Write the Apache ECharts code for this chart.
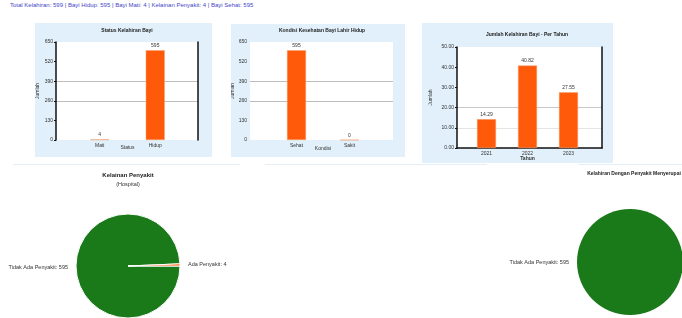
<!DOCTYPE html>
<html>
<head>
<meta charset="utf-8">
<script src="https://cdn.jsdelivr.net/npm/echarts@6/dist/echarts.min.js"></script>
<style>
body{margin:0;background:#fff;font-family:"Liberation Sans",Arial,sans-serif;}
#info{position:absolute;left:10px;top:2px;font-size:6px;color:#4646c8;white-space:nowrap;}
.panel{position:absolute;background:#e1f0fa;}
#c1{left:35px;top:23px;width:177px;height:134px;}
#c2{left:231px;top:24px;width:174px;height:133px;}
#c3{left:422px;top:23px;width:191px;height:140px;}
#pies{position:absolute;left:0;top:160px;width:682px;height:158px;}
.sep{position:absolute;top:164px;height:1px;background:#e3eef7;}
</style>
</head>
<body>
<div id="info">Total Kelahiran: 599 | Bayi Hidup: 595 | Bayi Mati: 4 | Kelainan Penyakit: 4 | Bayi Sehat: 595</div>
<div class="sep" style="left:13px;width:227px"></div>
<div class="sep" style="left:265px;width:222px"></div>
<div class="sep" style="left:578px;width:104px"></div>
<div id="c1" class="panel"></div>
<div id="c2" class="panel"></div>
<div id="c3" class="panel"></div>
<div id="pies"></div>
<script>
// data
var statusKategori = ['Mati', 'Hidup'];
var statusJumlah = [4, 595];
var statusSumbu = [0, 130, 260, 390, 520, 650];

var kondisiKategori = ['Sehat', 'Sakit'];
var kondisiJumlah = [595, 0];
var kondisiSumbu = [0, 130, 260, 390, 520, 650];

var tahunKategori = ['2021', '2022', '2023'];
var tahunNilai = [14.29, 40.82, 27.55];
var tahunSumbu = [0, 10, 20, 30, 40, 50];

var penyakitNama = ['Tidak Ada Penyakit', 'Ada Penyakit'];
var penyakitJumlah = [595, 4];

var menyerupaiNama = ['Tidak Ada Penyakit'];
var menyerupaiJumlah = [595];

function barOption(c) {
    var min = c.ticks[0];
    var max = c.ticks[c.ticks.length - 1];
    var step = c.ticks[1] - c.ticks[0];
    var fmt = function (v) { return c.dec ? v.toFixed(2) : String(v); };
    var dark = {color: '#111', width: 1.5};
    return {
        animation: false,
        title: {
            text: c.judul,
            left: c.titleX,
            top: c.titleTop,
            padding: 0,
            textAlign: 'center',
            textStyle: {fontSize: 5, fontWeight: 'bold', color: '#222'}
        },
        grid: [
            {left: c.plot[0], right: c.plot[1], top: c.plot[2], bottom: c.plot[3],
             outerBoundsMode: 'none', containLabel: false,
             show: true, backgroundColor: '#fff', borderWidth: 0},
            {left: c.bars[0], right: c.bars[1], top: c.plot[2], bottom: c.plot[3],
             outerBoundsMode: 'none', containLabel: false}
        ],
        xAxis: [
            {gridIndex: 0, type: 'value', min: 0, max: 1,
             axisLine: {show: c.bottomLine, lineStyle: dark},
             axisLabel: {show: false}, axisTick: {show: false}, splitLine: {show: false}},
            {gridIndex: 1, type: 'category', data: c.kategori,
             axisLine: {show: false}, axisTick: {show: false},
             axisLabel: {fontSize: 5, color: '#333', margin: 3},
             name: c.xName, nameLocation: 'middle', nameGap: c.xGap, nameMoveOverlap: false,
             nameTextStyle: {fontSize: 5, color: '#333', fontWeight: c.xBold ? 'bold' : 'normal'}}
        ],
        yAxis: [
            {gridIndex: 0, type: 'value', min: min, max: max, interval: step,
             axisLine: {show: c.leftLine, lineStyle: dark},
             axisTick: {show: c.leftLine, length: 2, lineStyle: {color: '#111'}},
             axisLabel: {fontSize: 5, color: '#333', margin: 3, formatter: fmt},
             splitLine: {lineStyle: {color: c.split, width: 1}},
             name: c.yName, nameLocation: 'middle', nameGap: c.yGap, nameMoveOverlap: false,
             nameTextStyle: {fontSize: 5, color: '#333'}},
            {gridIndex: 0, type: 'value', position: 'right', min: min, max: max, interval: step,
             axisLine: {show: c.rightLine, lineStyle: dark},
             axisLabel: {show: false}, axisTick: {show: false}, splitLine: {show: false}},
            {gridIndex: 1, type: 'value', min: min, max: max, show: false, splitLine: {show: false}}
        ],
        series: [{
            type: 'bar',
            xAxisIndex: 1,
            yAxisIndex: 2,
            data: c.nilai,
            barWidth: 19,
            itemStyle: {color: '#ff5a0a', borderColor: '#f0a070', borderWidth: 0.5},
            label: {show: true, position: 'top', distance: 2, fontSize: 5, color: '#333',
                    formatter: function (p) { return fmt(p.value); }}
        }]
    };
}

var clear = 'rgba(0,0,0,0)';

echarts.init(document.getElementById('c1')).setOption(barOption({
    judul: 'Status Kelahiran Bayi', titleX: 92, titleTop: 5,
    kategori: statusKategori, nilai: statusJumlah, ticks: statusSumbu, dec: false,
    plot: [21, 14, 19, 17], bars: [37, 29],
    xName: 'Status', xGap: 5.5, yName: 'Jumlah', yGap: 16,
    split: [clear, clear, '#bdbdbd', '#bdbdbd', clear, clear],
    leftLine: true, rightLine: true, bottomLine: false
}));

echarts.init(document.getElementById('c2')).setOption(barOption({
    judul: 'Kondisi Kesehatan Bayi Lahir Hidup', titleX: 91, titleTop: 4,
    kategori: kondisiKategori, nilai: kondisiJumlah, ticks: kondisiSumbu, dec: false,
    plot: [19, 12, 18, 17], bars: [39, 29],
    xName: 'Kondisi', xGap: 6.5, yName: 'Jumlah', yGap: 15,
    split: [clear, clear, '#bdbdbd', '#bdbdbd', clear, clear],
    leftLine: false, rightLine: false, bottomLine: false
}));

echarts.init(document.getElementById('c3')).setOption(barOption({
    judul: 'Jumlah Kelahiran Bayi - Per Tahun', titleX: 105, titleTop: 9,
    kategori: tahunKategori, nilai: tahunNilai, ticks: tahunSumbu, dec: true,
    plot: [35, 11, 24, 15], bars: [44, 24],
    xName: 'Tahun', xGap: 8, xBold: true, yName: 'Jumlah', yGap: 24,
    split: [clear, '#e4e4e4', '#c8c8c8', clear, clear, clear],
    leftLine: true, rightLine: true, bottomLine: true
}));

function pieData(nama, nilai) {
    return nama.map(function (n, i) { return {name: n, value: nilai[i]}; });
}

echarts.init(document.getElementById('pies')).setOption({
    animation: false,
    title: [
        {text: 'Kelainan Penyakit', subtext: '(Hospital)', left: 128, top: 12, textAlign: 'center',
         padding: 0, itemGap: 3, textStyle: {fontSize: 6, fontWeight: 'bold', color: '#222'},
         subtextStyle: {fontSize: 5.5, color: '#333'}},
        {text: 'Kelahiran Dengan Penyakit Menyerupai', left: 634, top: 11, textAlign: 'center',
         padding: 0, textStyle: {fontSize: 5, fontWeight: 'bold', color: '#222'}}
    ],
    color: ['#1a7a1a', '#ff5500'],
    series: [
        {type: 'pie', center: [128, 106], radius: 52, startAngle: 0,
         data: pieData(penyakitNama, penyakitJumlah),
         itemStyle: {borderColor: '#fff', borderWidth: 1},
         label: {formatter: '{b}: {c}', fontSize: 5.5, color: '#333'},
         labelLine: {show: false, length: 3, length2: 0}},
        {type: 'pie', center: [630, 102], radius: 53, startAngle: 0,
         data: pieData(menyerupaiNama, menyerupaiJumlah),
         itemStyle: {borderColor: '#fff', borderWidth: 0},
         label: {formatter: '{b}: {c}', fontSize: 5.5, color: '#333'},
         labelLine: {show: false, length: 3, length2: 0}}
    ]
});
</script>
</body>
</html>
